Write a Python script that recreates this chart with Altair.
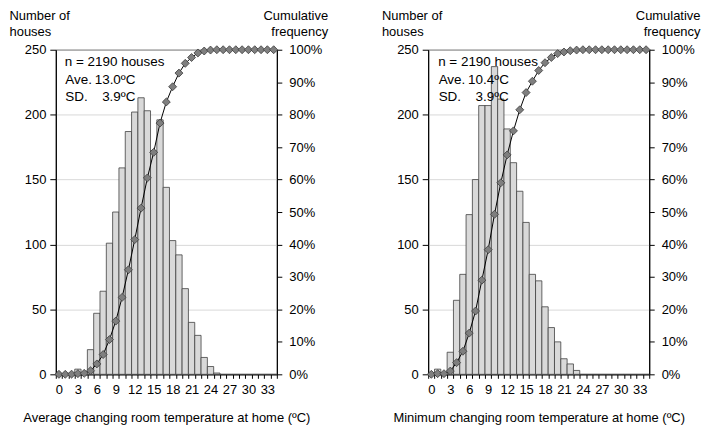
import altair as alt
import pandas as pd

# ---- data ----
bins = list(range(35))  # temperature classes 0..34 ºC

avg_counts = [0, 0, 1, 4, 1, 19, 47, 64, 101, 125, 159, 187, 202, 213, 203, 172, 196,
              144, 103, 92, 66, 40, 30, 13, 6, 1, 0, 0, 0, 0, 0, 0, 0, 0, 0]
min_counts = [0, 4, 1, 17, 57, 77, 123, 150, 207, 207, 237, 212, 189, 163, 141, 117, 77,
              72, 52, 36, 25, 12, 8, 3, 0, 0, 0, 0, 0, 0, 0, 0, 0, 0, 0]

# cumulative frequency (%)
avg_cum = [0, 0, 0.05, 0.2, 0.3, 1.1, 3.2, 6.1, 10.7, 16.4, 23.7, 32.2, 41.5, 51.2, 60.5,
           68.4, 77.4, 83.9, 88.6, 92.8, 95.8, 97.6, 99.0, 99.6, 99.9, 100, 100, 100, 100,
           100, 100, 100, 100, 100, 100]
min_cum = [0, 0.2, 0.2, 1.0, 3.6, 7.1, 12.7, 19.5, 29.0, 38.4, 49.3, 59.0, 67.6, 75.0, 81.5,
           86.8, 90.3, 93.6, 96.0, 97.6, 98.8, 99.3, 99.7, 99.9, 100, 100, 100, 100, 100,
           100, 100, 100, 100, 100, 100]

x_tick_labels = [0, 3, 6, 9, 12, 15, 18, 21, 24, 27, 30, 33]
x_boundaries = [k - 0.5 for k in range(36)]
count_ticks = [0, 50, 100, 150, 200, 250]
pct_ticks = [0, 0.1, 0.2, 0.3, 0.4, 0.5, 0.6, 0.7, 0.8, 0.9, 1.0]

avg_title = "Average changing room temperature at home (ºC)"
min_title = "Minimum changing room temperature at home (ºC)"
avg_stats = ["n = 2190 houses", "Ave.", "13.0ºC", "SD.", "3.9ºC"]
min_stats = ["n = 2190 houses", "Ave.", "10.4ºC", "SD.", "3.9ºC"]

FONT = "Liberation Sans"
W, H = 222, 326


def panel(counts, cum, xtitle, stats, tx, vx):
    df = pd.DataFrame({"t": bins, "n": counts, "c": [v / 100 for v in cum]})
    base = alt.Chart(df)
    xscale = alt.Scale(domain=[-0.5, 34.5], nice=False, zero=False)

    bars = base.transform_calculate(
        lo="datum.t - 0.5", hi="datum.t + 0.5"
    ).mark_bar(fill="#d9d9d9", stroke="#404040", strokeWidth=0.8).encode(
        x=alt.X("lo:Q", scale=xscale,
                axis=alt.Axis(values=x_boundaries, labels=False, title=None, orient="bottom",
                              tickSize=4, tickColor="black", domainColor="black", grid=False)),
        x2="hi:Q",
        y=alt.Y("n:Q", scale=alt.Scale(domain=[0, 250], nice=False),
                axis=alt.Axis(values=count_ticks, title=["Number of", "houses"],
                              titleAngle=0, titleAlign="left", titleBaseline="top",
                              titleX=-47, titleY=-40, titleLineHeight=16,
                              tickSize=6, tickColor="black", domainColor="black",
                              labelPadding=4, grid=True, gridColor="#d9d9d9")),
        y2=alt.datum(0),
    )

    xlab_axis = alt.Axis(values=x_tick_labels, ticks=False, domain=False, orient="bottom",
                         title=xtitle, labelPadding=9, titlePadding=15, grid=False,
                         labelFlush=False)
    yr_axis = alt.Axis(values=pct_ticks, format=".0%", orient="right",
                       title=["Cumulative", "frequency"], titleAngle=0, titleAlign="right",
                       titleBaseline="top", titleX=51, titleY=-40, titleLineHeight=16,
                       tickSize=5, tickColor="black", domainColor="black",
                       labelPadding=7, grid=False)
    yr_scale = alt.Scale(domain=[0, 1], nice=False)

    line = base.mark_line(color="black", strokeWidth=1).encode(
        x=alt.X("t:Q", scale=xscale, axis=xlab_axis),
        y=alt.Y("c:Q", scale=yr_scale, axis=yr_axis),
    )
    pts = base.mark_point(shape="diamond", filled=True, fill="#7f7f7f", stroke="#3a3a3a",
                          strokeWidth=0.8, size=64, opacity=1).encode(
        x=alt.X("t:Q", scale=xscale, axis=None),
        y=alt.Y("c:Q", scale=yr_scale, axis=None),
    )

    one = pd.DataFrame({"a": [0]})
    def txt(s, x, y, align):
        return alt.Chart(one).mark_text(text=s, align=align, baseline="middle",
                                        font=FONT, fontSize=13.5, color="black").encode(
            x=alt.value(x), y=alt.value(y))

    texts = [
        txt(stats[0], tx, 12, "left"),
        txt(stats[1], tx + 0.5, 30, "left"),
        txt(stats[2], vx, 30, "right"),
        txt(stats[3], tx + 0.5, 47, "left"),
        txt(stats[4], vx, 47, "right"),
    ]

    return alt.layer(bars, line, pts, *texts).resolve_scale(
        y="independent").resolve_axis(x="independent", y="independent").properties(
        width=W, height=H)


left = panel(avg_counts, avg_cum, avg_title, avg_stats, 9, 80)
right = panel(min_counts, min_cum, min_title, min_stats, 10, 81)

chart = alt.hconcat(left, right, spacing=52).properties(padding=0).configure_view(
    stroke="black", strokeWidth=1
).configure_axis(
    labelFont=FONT, labelFontSize=13, labelColor="black",
    titleFont=FONT, titleFontSize=13, titleFontWeight="normal", titleColor="black",
)

chart.save("out.html", embed_options={"renderer": "svg", "actions": False})
